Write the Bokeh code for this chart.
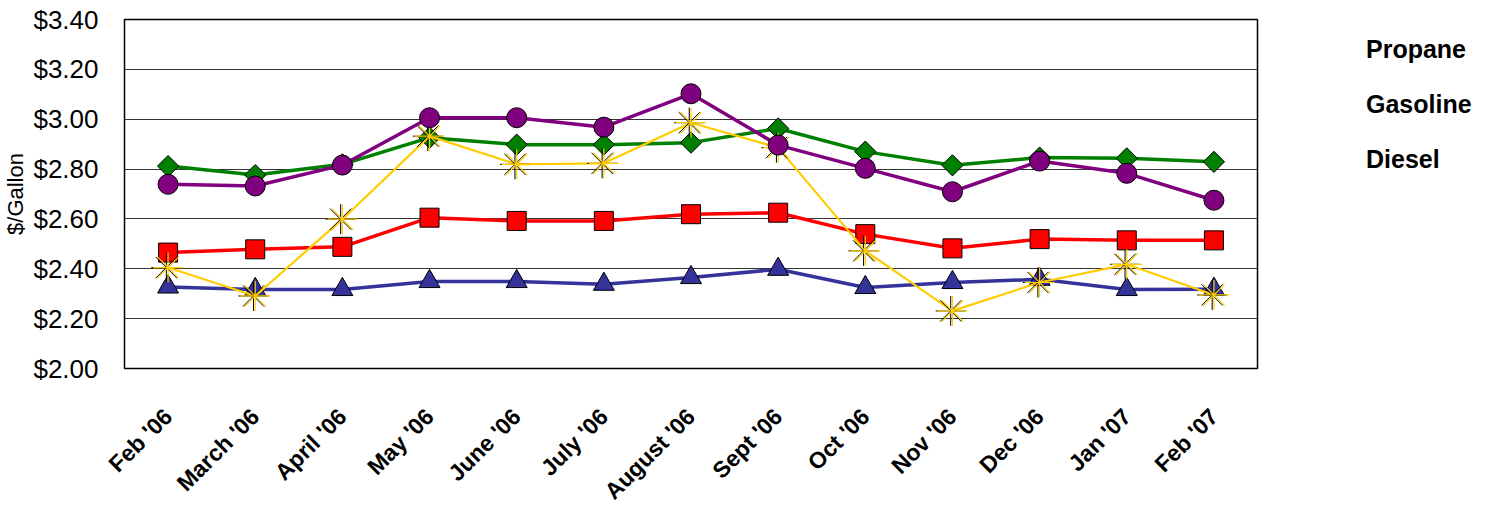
import math
from bokeh.plotting import figure
from bokeh.layouts import row
from bokeh.models import (Range1d, FixedTicker, NumeralTickFormatter, Legend,
                          LegendItem, Label, ColumnDataSource)
from bokeh.transform import dodge
from bokeh.embed import file_html
from bokeh.resources import INLINE

months = ["Feb '06", "March '06", "April '06", "May '06", "June '06", "July '06",
          "August '06", "Sept '06", "Oct '06", "Nov '06", "Dec '06", "Jan '07", "Feb '07"]
fuel_oil = [2.465, 2.478, 2.488, 2.605, 2.592, 2.592, 2.619, 2.625, 2.539, 2.482, 2.519, 2.514, 2.514]
kerosene = [2.812, 2.776, 2.819, 2.926, 2.898, 2.898, 2.906, 2.963, 2.870, 2.815, 2.846, 2.843, 2.829]
propane = [2.327, 2.317, 2.317, 2.349, 2.349, 2.338, 2.365, 2.398, 2.325, 2.345, 2.358, 2.317, 2.318]
gasoline = [2.405, 2.291, 2.599, 2.932, 2.819, 2.823, 2.986, 2.886, 2.472, 2.231, 2.345, 2.418, 2.295]
diesel = [2.739, 2.732, 2.816, 3.006, 3.006, 2.968, 3.102, 2.896, 2.803, 2.709, 2.832, 2.783, 2.675]
y_ticks = [2.0, 2.2, 2.4, 2.6, 2.8, 3.0, 3.2, 3.4]
series_names = ["Fuel Oil", "Kerosene", "Propane", "Gasoline", "Diesel"]

src = ColumnDataSource(dict(m=months, fuel=fuel_oil, kero=kerosene, prop=propane,
                            gas=gasoline, dies=diesel))

FONT = "Liberation Sans"

p = figure(x_range=months, y_range=Range1d(2.0, 3.4), width=1259, height=516,
           output_backend="svg", toolbar_location=None, title=None,
           min_border_left=120, min_border_right=2, min_border_top=19,
           min_border_bottom=148)
p.background_fill_color = "white"
p.border_fill_color = "white"
p.outline_line_color = "black"
p.outline_line_width = 1.5

p.xgrid.grid_line_color = None
p.ygrid.grid_line_color = "#333333"
p.ygrid.grid_line_width = 1

p.yaxis.ticker = FixedTicker(ticks=y_ticks)
p.yaxis.formatter = NumeralTickFormatter(format="$0.00")
p.yaxis.axis_line_color = None
p.yaxis.major_tick_line_color = None
p.yaxis.minor_tick_line_color = None
p.yaxis.major_label_standoff = 20
p.yaxis.major_label_text_font = FONT
p.yaxis.major_label_text_font_size = "26px"
p.yaxis.major_label_text_color = "black"
p.yaxis.axis_label = "$/Gallon"
p.yaxis.axis_label_text_font = FONT
p.yaxis.axis_label_text_font_size = "22px"
p.yaxis.axis_label_text_font_style = "normal"
p.yaxis.axis_label_text_color = "black"
p.yaxis.axis_label_standoff = 2

p.xaxis.axis_line_color = None
p.xaxis.major_tick_line_color = None
p.xaxis.minor_tick_line_color = None
p.xaxis.major_label_orientation = math.pi / 4
p.xaxis.major_label_standoff = 38
p.xaxis.major_label_text_font = FONT
p.xaxis.major_label_text_font_size = "23px"
p.xaxis.major_label_text_font_style = "bold"
p.xaxis.major_label_text_color = "black"

# series styles: (line color, line width, marker, marker size, angle)
styles = {
    "Fuel Oil": ("#FF0000", 3.5, "square", 19, 0.0),
    "Kerosene": ("#008000", 3.5, "square", 15, math.pi / 4),
    "Propane": ("#333399", 3.5, "triangle", 21, 0.0),
    "Gasoline": ("#FFCC00", 2.2, "asterisk", 30, 0.0),
    "Diesel": ("#800080", 3.5, "circle", 20, 0.0),
}
cols = {"Fuel Oil": "fuel", "Kerosene": "kero", "Propane": "prop",
        "Gasoline": "gas", "Diesel": "dies"}

for name in series_names:
    color, lw, marker, size, ang = styles[name]
    p.line("m", cols[name], source=src, line_color=color, line_width=lw)
    if marker == "asterisk":
        p.scatter(dodge("m", -0.02, range=p.x_range), cols[name], source=src,
                  marker="asterisk", size=size, line_color="black", line_width=1)
        p.scatter("m", cols[name], source=src, marker="asterisk", size=size,
                  line_color=color, line_width=1.2)
    else:
        p.scatter("m", cols[name], source=src, marker=marker, size=size, angle=ang,
                  fill_color=color, line_color="black", line_width=1)

title = Label(x=6.5, y=3.4, x_offset=24, y_offset=27,
              text="One-Year Price Trend", text_align="center",
              text_baseline="alphabetic", text_font=FONT, text_font_size="48px",
              text_font_style="bold", text_color="black")
p.add_layout(title)

# legend panel
lp = figure(width=245, height=516, x_range=Range1d(0, 1), y_range=Range1d(0, 1),
            output_backend="svg", toolbar_location=None, title=None,
            x_axis_location=None, y_axis_location=None,
            min_border_left=0, min_border_right=0, min_border_top=0, min_border_bottom=0)
lp.grid.visible = False
lp.outline_line_color = None
lp.background_fill_color = "white"
lp.border_fill_color = "white"

items = []
for name in series_names:
    color, lw, marker, size, ang = styles[name]
    lr = lp.line([], [], line_color=color, line_width=lw)
    if marker == "asterisk":
        mr = lp.scatter([], [], marker="asterisk", line_color=color, line_width=1.2)
    else:
        mr = lp.scatter([], [], marker=marker, angle=ang, fill_color=color,
                        line_color="black", line_width=1)
    items.append(LegendItem(label=name, renderers=[lr, mr]))

legend = Legend(items=items, location=(39, 184), orientation="vertical",
                glyph_width=61, glyph_height=50, label_height=50, spacing=5,
                label_standoff=7, padding=0, margin=0,
                label_text_font=FONT, label_text_font_size="25px",
                label_text_font_style="bold", label_text_color="black",
                border_line_color=None, background_fill_alpha=0)
lp.add_layout(legend, "center")

layout = row(p, lp, spacing=0)
open("out.html", "w").write(file_html(layout, INLINE))
